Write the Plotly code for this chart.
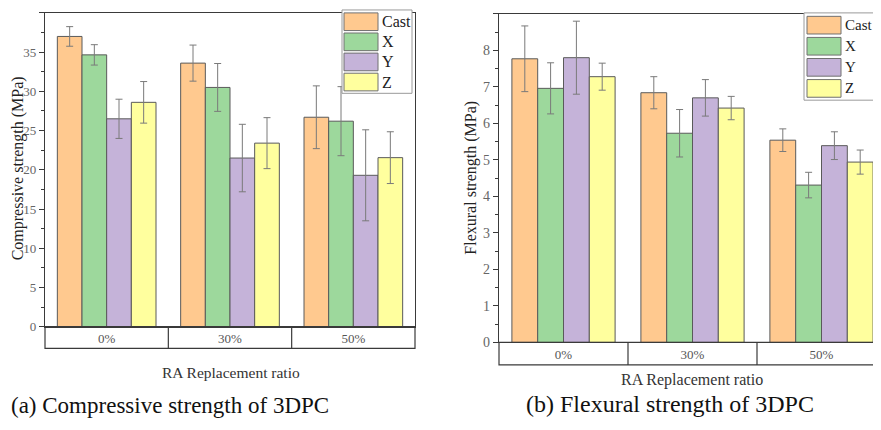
import plotly.graph_objects as go

# ---------------- data ----------------
categories = ["0%", "30%", "50%"]
series = ["Cast", "X", "Y", "Z"]

comp_cast = [37.0, 33.6, 26.7]
comp_x = [34.65, 30.5, 26.2]
comp_y = [26.5, 21.5, 19.3]
comp_z = [28.6, 23.4, 21.55]
comp_err_cast = [1.25, 2.3, 4.0]
comp_err_x = [1.3, 3.05, 4.4]
comp_err_y = [2.5, 4.3, 5.8]
comp_err_z = [2.65, 3.25, 3.3]

flex_cast = [7.77, 6.84, 5.54]
flex_x = [6.96, 5.73, 4.31]
flex_y = [7.80, 6.70, 5.39]
flex_z = [7.28, 6.42, 4.94]
flex_err_cast = [0.9, 0.44, 0.31]
flex_err_x = [0.7, 0.65, 0.35]
flex_err_y = [1.0, 0.5, 0.38]
flex_err_z = [0.37, 0.32, 0.33]

comp_vals = [comp_cast, comp_x, comp_y, comp_z]
comp_errs = [comp_err_cast, comp_err_x, comp_err_y, comp_err_z]
flex_vals = [flex_cast, flex_x, flex_y, flex_z]
flex_errs = [flex_err_cast, flex_err_x, flex_err_y, flex_err_z]

colors = ["#FFC98F", "#9DD89C", "#C5B3D9", "#FFFF9E"]

# ---------------- layout helpers ----------------
# The page body has an 8px margin; keep the figure inside the window so the
# page never overflows: screen = figure + 8.
OFF = 8
W, H = 881 - 2 * OFF, 430 - 2 * OFF
FONT = "Liberation Serif"


def px(x):
    return (x - OFF) / W


def py(y):
    return min(1.0, max(0.0, 1 - (y - OFF) / H))


xpos = list(range(len(categories)))

fig = go.Figure()
for i, name in enumerate(series):
    fig.add_trace(go.Bar(
        x=xpos, y=comp_vals[i], name=name, xaxis="x", yaxis="y",
        marker=dict(color=colors[i], line=dict(color="#5a5a5a", width=1)),
        error_y=dict(type="data", array=comp_errs[i], color="#7a7a7a", thickness=1, width=3.5),
        showlegend=False, offsetgroup=name,
    ))
for i, name in enumerate(series):
    fig.add_trace(go.Bar(
        x=xpos, y=flex_vals[i], name=name, xaxis="x2", yaxis="y2",
        marker=dict(color=colors[i], line=dict(color="#5a5a5a", width=1)),
        error_y=dict(type="data", array=flex_errs[i], color="#7a7a7a", thickness=1, width=3.5),
        showlegend=False, offsetgroup=name,
    ))

# subplot geometry (screen pixels); tops kept low enough for the top tick labels to show
L = dict(x0=45, x1=415, y0=13, y1=333, box=22)
R = dict(x0=499, x1=OFF + W, y0=14, y1=349, box=23)
cat_px_right = 129.0  # the right panel runs past the window edge
left_range = [-0.5, len(categories) - 0.5]
right_range = [-0.5, -0.5 + (R["x1"] - R["x0"]) / cat_px_right]

axis_common = dict(showline=True, linecolor="#3a3a3a", linewidth=1.2,
                   showgrid=False, zeroline=False)

fig.update_layout(
    width=W, height=H, margin=dict(l=0, r=0, t=0, b=0),
    paper_bgcolor="white", plot_bgcolor="white",
    barmode="group", bargap=0.2, bargroupgap=0,
    font=dict(family=FONT, color="#555555"),
    xaxis=dict(domain=[px(L["x0"]), px(L["x1"])], range=left_range, anchor="y",
               tickvals=xpos, ticktext=categories, ticks="", mirror=True,
               tickfont=dict(size=13, color="#555555"), **axis_common),
    yaxis=dict(domain=[py(L["y1"]), py(L["y0"])], range=[0, 40], anchor="x",
               dtick=5, ticks="outside", ticklen=5, tickcolor="#3a3a3a", mirror=True,
               minor=dict(ticks="outside", ticklen=3, dtick=2.5, tickcolor="#3a3a3a"),
               tickfont=dict(size=13, color="#666666"), **axis_common),
    xaxis2=dict(domain=[px(R["x0"]), 1.0], range=right_range, anchor="y2",
                tickvals=xpos, ticktext=categories, ticks="", mirror=True,
                tickfont=dict(size=13, color="#555555"), **axis_common),
    yaxis2=dict(domain=[py(R["y1"]), py(R["y0"])], range=[0, 9], anchor="x2",
                dtick=1, ticks="outside", ticklen=5, tickcolor="#3a3a3a", mirror=False,
                minor=dict(ticks="outside", ticklen=3, dtick=0.5, tickcolor="#3a3a3a"),
                tickfont=dict(size=14, color="#666666"), **axis_common),
)

shapes = []
annotations = []


def cat_box(xa, ya, g, rng):
    # rectangle under the category axis, split per category
    bottom = -g["box"] / (g["y1"] - g["y0"])
    span = rng[1] - rng[0]
    right = (len(categories) - 0.5 - rng[0]) / span
    shapes.append(dict(type="rect", xref=xa + " domain", yref=ya + " domain",
                       x0=0, x1=right, y0=bottom, y1=0,
                       line=dict(color="#3a3a3a", width=1.2)))
    for k in range(1, len(categories)):
        xd = (k - 0.5 - rng[0]) / span
        shapes.append(dict(type="line", xref=xa + " domain", yref=ya + " domain",
                           x0=xd, x1=xd, y0=bottom, y1=0,
                           line=dict(color="#3a3a3a", width=1.2)))


cat_box("x", "y", L, left_range)
cat_box("x2", "y2", R, right_range)


def legend(box, sw_x, tops, text_x, size):
    shapes.append(dict(type="rect", xref="paper", yref="paper",
                       x0=px(box[0]), x1=px(box[1]), y0=py(box[3]), y1=py(box[2]),
                       line=dict(color="#9a9a9a", width=1), fillcolor="white", layer="above"))
    for i, name in enumerate(series):
        shapes.append(dict(type="rect", xref="paper", yref="paper",
                           x0=px(sw_x[0]), x1=px(sw_x[1]), y0=py(tops[i] + 18), y1=py(tops[i]),
                           line=dict(color="#707070", width=1), fillcolor=colors[i], layer="above"))
        annotations.append(dict(text=name, xref="paper", yref="paper", x=px(text_x), y=py(tops[i] + 9),
                                xanchor="left", yanchor="middle", showarrow=False,
                                font=dict(family=FONT, size=size, color="#222222")))


legend((342, 412, 10, 95), (344, 378), [13, 33.5, 54, 74.5], 380, 16)
legend((804, 900, 13, 102), (807, 841), [16.5, 38, 59.5, 81], 843, 15)

# axis titles and captions
annotations += [
    dict(text="Compressive strength (MPa)", x=px(17.5), y=py(172), textangle=-90,
         xanchor="center", font=dict(family=FONT, size=16, color="#222222")),
    dict(text="Flexural strength (MPa)", x=px(471), y=py(181), textangle=-90,
         xanchor="center", font=dict(family=FONT, size=16, color="#222222")),
    dict(text="RA Replacement ratio", x=px(231), y=py(380),
         xanchor="center", font=dict(family=FONT, size=15.5, color="#333333")),
    dict(text="RA Replacement ratio", x=px(692), y=py(387),
         xanchor="center", font=dict(family=FONT, size=16, color="#333333")),
    dict(text="(a) Compressive strength of 3DPC", x=px(8.5), y=py(413),
         xanchor="left", font=dict(family=FONT, size=23, color="#111111")),
    dict(text="(b) Flexural strength of 3DPC", x=px(670), y=py(412),
         xanchor="center", font=dict(family=FONT, size=24, color="#111111")),
]
for a in annotations[-6:]:
    a.update(xref="paper", yref="paper", showarrow=False, yanchor="middle")

fig.update_layout(shapes=shapes, annotations=annotations)
fig.write_html("out.html")
